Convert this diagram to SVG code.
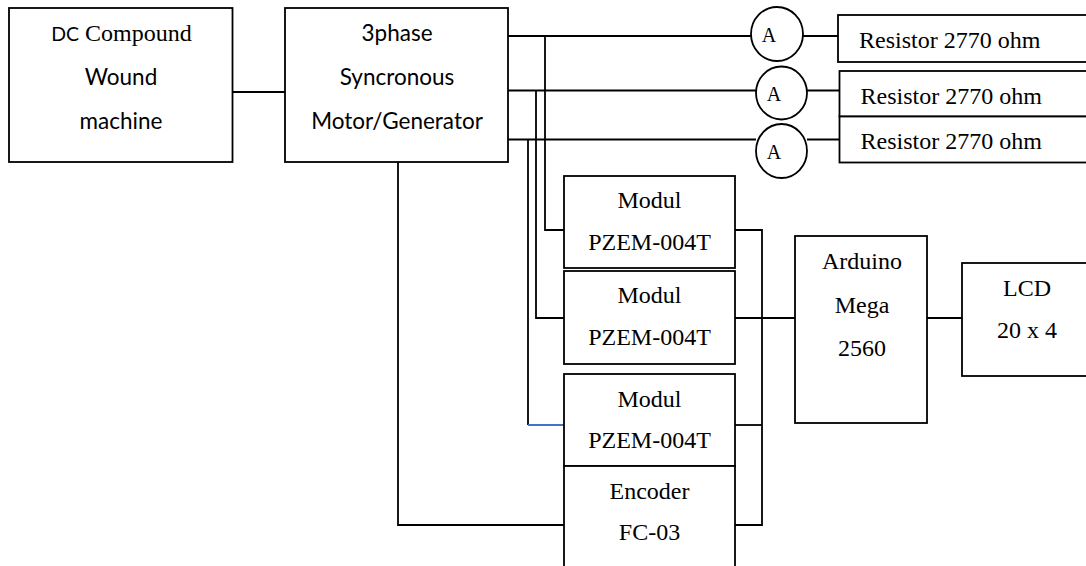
<svg xmlns="http://www.w3.org/2000/svg" width="1086" height="566" viewBox="0 0 1086 566">
<style>
rect,ellipse{fill:#fff;stroke:#000;stroke-width:1.8}
.c path{fill:none;stroke:#000;stroke-width:1.8}
text{font-family:"Liberation Serif",serif;font-size:24px;fill:#000;text-anchor:middle}
.l{font-family:Lato,"Liberation Sans",sans-serif;font-size:22.500px}
.d{font-family:Lato,"Liberation Sans",sans-serif;font-size:19.500px}
.a{font-size:20px}
.s{text-anchor:start}
</style>
<rect width="1086" height="566" style="fill:#fff;stroke:none"/>
<g class="c">
<path d="M232.500 92H285"/>
<path d="M508 36H751M803 36H838"/>
<path d="M508 90.500H756M807 90.500H839"/>
<path d="M508 139.500H756M807 139.500H839"/>
<path d="M545 36V230H564"/>
<path d="M536 90.500V318H564"/>
<path d="M528 139.500V425"/>
<path d="M528 425H564" style="stroke:#4472c4"/>
<path d="M398 162V525H564"/>
<path d="M735 230H762V525H735"/>
<path d="M735 425H762"/>
<path d="M735 318H795"/>
<path d="M927 318H962"/>
</g>
<g id="dc"><rect x="9" y="8" width="223.500" height="154"/><text x="121.500" y="41"><tspan class="d">DC</tspan> Compound</text><text class="l" x="121" y="85">Wound</text><text class="l" x="121" y="129">machine</text></g>
<g id="sync"><rect x="285" y="8" width="223" height="154"/><text class="l" x="397" y="41">3phase</text><text class="l" x="397" y="85">Syncronous</text><text class="l" x="397" y="129">Motor/Generator</text></g>
<g id="a1"><ellipse cx="777" cy="34" rx="26" ry="27"/><text class="a" x="769" y="42">A</text></g>
<g id="a2"><ellipse cx="781.500" cy="93" rx="25.500" ry="26.500"/><text class="a" x="774" y="101">A</text></g>
<g id="a3"><ellipse cx="781.500" cy="151" rx="25.500" ry="27"/><text class="a" x="774" y="159">A</text></g>
<g id="r1"><rect x="838" y="15" width="260" height="47"/><text class="s" x="859" y="48">Resistor 2770 ohm</text></g>
<g id="r2"><rect x="839.500" y="71" width="260" height="45.500"/><text class="s" x="860.500" y="104">Resistor 2770 ohm</text></g>
<g id="r3"><rect x="839.500" y="116.500" width="260" height="46"/><text class="s" x="860.500" y="149">Resistor 2770 ohm</text></g>
<g id="m1"><rect x="564" y="176" width="171" height="92"/><text x="649.500" y="208">Modul</text><text x="649.500" y="250">PZEM-004T</text></g>
<g id="m2"><rect x="564" y="271" width="171" height="93"/><text x="649.500" y="303">Modul</text><text x="649.500" y="345">PZEM-004T</text></g>
<g id="m3"><rect x="564" y="374" width="171" height="92"/><text x="649.500" y="407">Modul</text><text x="649.500" y="448">PZEM-004T</text></g>
<g id="enc"><rect x="564" y="466" width="171" height="110"/><text x="649.500" y="499">Encoder</text><text x="649.500" y="540">FC-03</text></g>
<g id="ard"><rect x="795" y="236" width="132" height="187"/><text x="862" y="269">Arduino</text><text x="862" y="313">Mega</text><text x="862" y="356">2560</text></g>
<g id="lcd"><rect x="962" y="263" width="130" height="113"/><text x="1027" y="296">LCD</text><text x="1027" y="338">20 x 4</text></g>
</svg>
